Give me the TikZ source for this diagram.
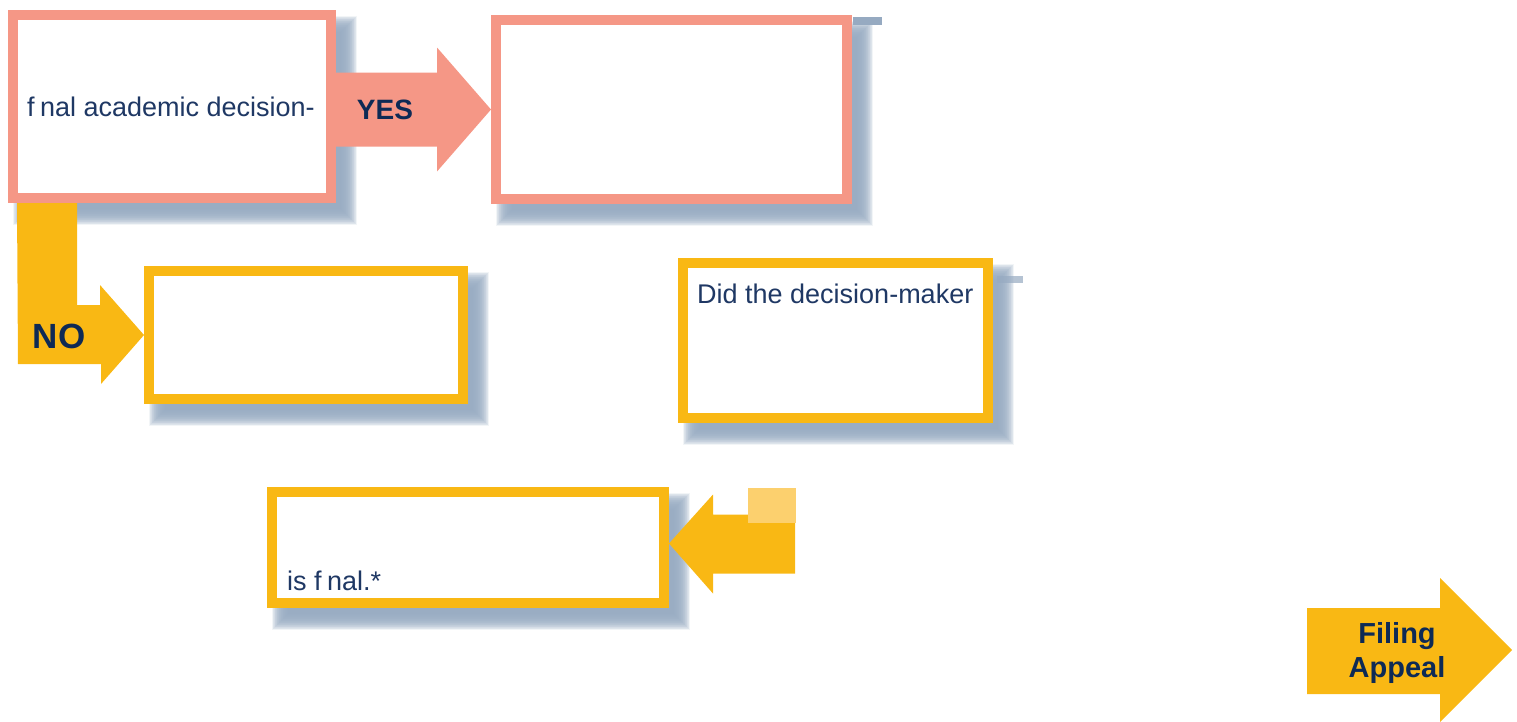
\documentclass[tikz,border=0pt]{standalone}
\usepackage{fontspec}
\setmainfont{Liberation Sans}
\definecolor{apSalmon}{HTML}{F59786}
\definecolor{apYellow}{HTML}{F9B814}
\definecolor{apLight}{HTML}{FCD06E}
\definecolor{apNavy}{HTML}{1F3864}
\definecolor{apInk}{HTML}{0E2A55}
\definecolor{apShadow}{HTML}{96AAC1}
\usetikzlibrary{positioning, calc, backgrounds}

% soft shadow behind a box, offset right and down
\newcommand{\boxshadow}[1]{%
  \foreach \g in {0,...,24}{%
    \fill[apShadow, opacity=.12] ($(#1.north west)+(5+.6667*\g,6+.6667*\g)$)
      rectangle ($(#1.south east)+(21-.6667*\g,22-.6667*\g)$);
  }}

\begin{document}
\begin{tikzpicture}[x=1pt, y=-1pt,
  stagebox/.style={line width=10pt, fill=white, inner sep=0pt},
  decbox/.style={stagebox, draw=apSalmon},
  optbox/.style={stagebox, draw=apYellow},
  bodytxt/.style={font=\fontsize{27}{32}\selectfont, text=apNavy, inner sep=0pt},
  armlbl/.style={font=\fontsize{28}{34}\selectfont\bfseries, text=apInk, inner sep=0pt}]

  \useasboundingbox (0,0) rectangle (1517,721);

  % Boxes
  \node[decbox, minimum width=318pt, minimum height=183pt] (A) at (172,106.5) {};
  \node[decbox, minimum width=351pt, minimum height=179pt] (B) at (671.5,109.5) {};
  \node[optbox, minimum width=314pt, minimum height=128pt] (C) at (306,335) {};
  \node[optbox, minimum width=305pt, minimum height=155pt] (D) at (835.5,340.5) {};
  \node[optbox, minimum width=392pt, minimum height=111pt] (E) at (468,547.5) {};

  \begin{scope}[on background layer]
    \boxshadow{A} \boxshadow{B} \boxshadow{C} \boxshadow{D} \boxshadow{E}
  \end{scope}

  \node[bodytxt, anchor=base west] (acad) at ($(A.west)+(19,10)$) {f\kern0.2em nal academic decision-};
  \node[bodytxt, anchor=base west] (dmq) at ($(D.north west)+(19,45)$) {Did the decision-maker};
  \node[bodytxt, anchor=base west] (fin) at ($(E.south west)+(20,-18)$) {is f\kern0.2em nal.*};

  % stray marks
  \fill[apShadow] ($(B.north east)+(1,2)$) rectangle ++(29,8);
  \fill[apShadow, opacity=.7] ($(D.north east)+(4,18)$) rectangle ++(26,7);

  % YES
  \fill[apSalmon] (B.west) -- ++(-54,-62) -- ++(0,25) -- ($(A.east)+(0,-34)$)
    -- ($(A.east)+(0,40)$) -- ++(101,0) -- ++(0,25) -- cycle;
  \node[armlbl] (yes) at ($(A.east)+(49,3)$) {YES};

  % NO
  \coordinate (noTop) at ($(A.south west)+(9,0)$);
  \fill[apYellow] (noTop) -- ++(60,0) -- ++(0,102) -- ++(23,0) -- ++(0,-20) -- (C.west)
    -- ++(-43,49) -- ++(0,-20) -- ++(-83,0) -- cycle;
  \node[armlbl, font=\fontsize{35}{40}\selectfont\bfseries] (no) at ($(C.west)+(-85,1)$) {NO};

  % back to E
  \coordinate (backTip) at ($(E.east)+(0,-4)$);
  \fill[apYellow] (backTip) -- ++(44,-49) -- ++(0,20) -- ++(82,0) -- ++(0,59)
    -- ++(-82,0) -- ++(0,20) -- cycle;
  \fill[apLight] ($(backTip)+(79,-56)$) rectangle ++(48,35);

  % Filing
  \coordinate (fileTip) at (1512,650);
  \fill[apYellow] (fileTip) -- ++(-72,-72) -- ++(0,30) -- ++(-133,0) -- ++(0,86)
    -- ++(133,0) -- ++(0,28) -- cycle;
  \node[armlbl, font=\fontsize{29}{34}\selectfont\bfseries, align=center] (file)
    at ($(fileTip)+(-115,3)$) {Filing\\Appeal};
\end{tikzpicture}
\end{document}
